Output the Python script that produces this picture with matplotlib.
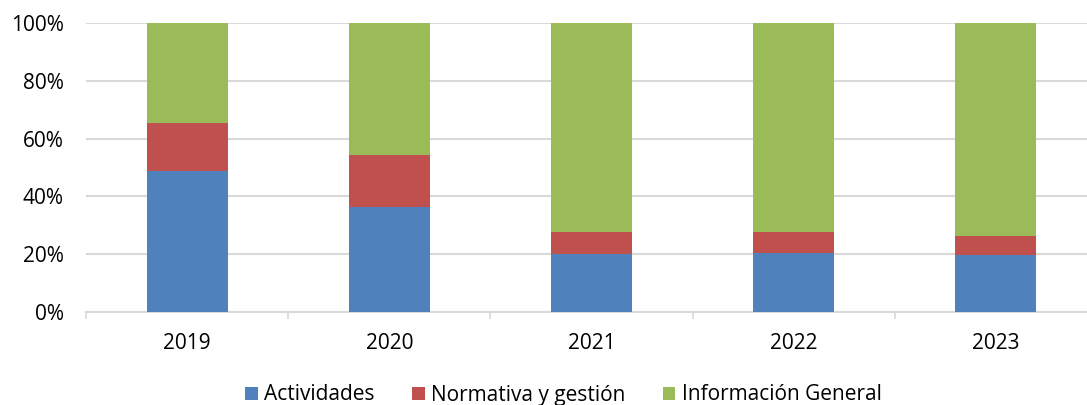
import matplotlib.pyplot as plt
import numpy as np

plt.rcParams['font.family'] = ['Open Sans', 'DejaVu Sans']

years = ['2019', '2020', '2021', '2022', '2023']
actividades = [48.7, 36.4, 20.0, 20.2, 19.6]
normativa = [16.8, 17.9, 7.7, 7.5, 6.8]
informacion = [34.5, 45.7, 72.3, 72.3, 73.6]
labels = ['Actividades', 'Normativa y gestión', 'Información General']
colors = ['#4F81BD', '#C0504D', '#9BBB59']

fig = plt.figure(figsize=(10.87, 4.05), dpi=100)
ax = fig.add_axes([86/1087, 93.3/405, 1011/1087, 288.4/405])

x = np.arange(len(years))
bottom = np.zeros(len(years))
for vals, lab, col in zip([actividades, normativa, informacion], labels, colors):
    ax.bar(x, vals, 0.4, bottom=bottom, color=col, label=lab, zorder=3)
    bottom += np.array(vals)

ax.set_xlim(-0.5, len(years) - 0.5)
ax.set_ylim(0, 100)
ax.set_yticks(range(0, 101, 20))
ax.set_yticklabels([f'{v}%' for v in range(0, 101, 20)])
ax.set_xticks(x)
ax.set_xticklabels(years)
ax.set_xticks(np.arange(-0.5, len(years), 1), minor=True)
ax.tick_params(axis='x', which='major', length=0, pad=15, labelsize=15)
ax.tick_params(axis='x', which='minor', length=5, color='#d9d9d9', width=1.2)
ax.tick_params(axis='y', length=0, pad=16, labelsize=15)

ax.yaxis.grid(True, color='#d9d9d9', linewidth=1.5, zorder=0)
for s in ['top', 'right', 'left']:
    ax.spines[s].set_visible(False)
ax.spines['bottom'].set_color('#d9d9d9')
ax.spines['bottom'].set_linewidth(1.5)

fig.legend(loc='center', bbox_to_anchor=(563.5/1087, 1 - 395/405), ncol=3,
           frameon=False, fontsize=15, handlelength=0.6, handleheight=0.6,
           handletextpad=0.3, columnspacing=1.8)

fig.savefig('out.png', dpi=100)
